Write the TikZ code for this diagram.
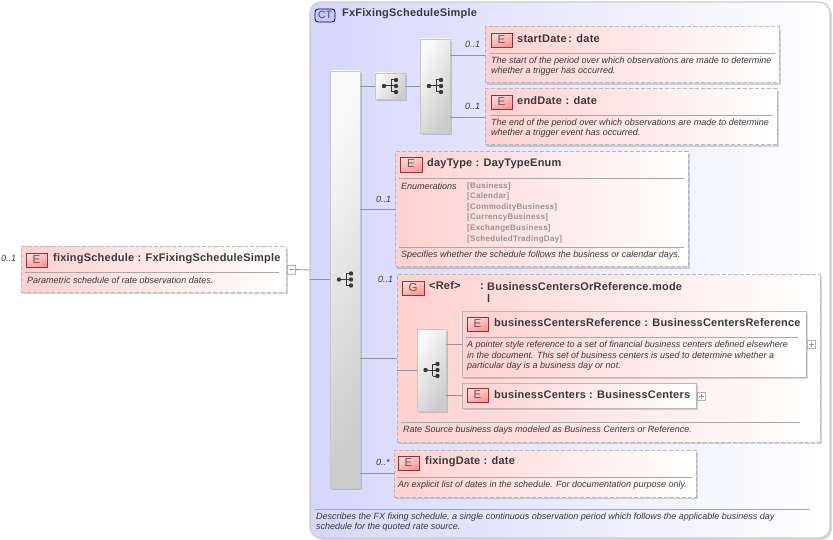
\documentclass[tikz,border=0pt]{standalone}
\usepackage{fontspec}
\setmainfont{Liberation Sans}
\newfontfamily\ttlfont[LetterSpace=2]{Liberation Sans}
\newfontfamily\enumfont[LetterSpace=3.5]{Liberation Sans}
\usetikzlibrary{shadows}
\definecolor{ink}{HTML}{3A3A3A}
\definecolor{rule}{HTML}{A8A8A8}
\definecolor{dashc}{HTML}{B8B8B8}
\definecolor{pinkl}{HTML}{FFD0D0}
\definecolor{bluel}{HTML}{D6D6FC}
\tikzset{
 x=1pt,y=-1pt,
 softshadow/.style={drop shadow={shadow xshift=2pt,shadow yshift=-2pt,fill=black,opacity=.16}},
 basebox/.style={inner sep=0pt,outer sep=0pt,anchor=north west},
 ctbox/.style={basebox,draw=#1,line width=1.2pt,rounded corners=11pt,shading=axis,left color=bluel,right color=white,softshadow},
 optbox/.style={basebox,draw=dashc,line width=1pt,dash pattern=on 4pt off 2pt,shading=axis,left color=pinkl,right color=white,softshadow},
 reqbox/.style={basebox,draw=dashc,line width=1pt,shading=axis,left color=pinkl,right color=white,softshadow},
 seqbox/.style={basebox,draw=white!78!black,line width=.8pt,shading=axis,top color=white!98!black,bottom color=white!80!black,shading angle=60,softshadow},
 badge/.style={basebox,draw=black!55!#1!80,line width=.8pt,shading=axis,top color=#1!14,bottom color=#1!42,shading angle=20,text=black!65,align=center,font=\fontsize{11.5}{12}\selectfont},
 ctbadge/.style={basebox,draw=black!70!blue,line width=.8pt,rounded corners=3pt,fill=blue!22,text=black!70,align=center,font=\fontsize{10.5}{12}\selectfont},
 plusbox/.style={basebox,draw=black!30,line width=.6pt,fill=white},
 conn/.style={draw=black!42,line width=.8pt},
 septl/.style={draw=rule,line width=.9pt},
 titletx/.style={inner sep=0pt,anchor=west,text=ink,font=\fontsize{11}{13}\selectfont\ttlfont\bfseries},
 desctx/.style={inner sep=0pt,anchor=west,text=ink,font=\fontsize{9}{10}\selectfont\itshape},
 occtx/.style={inner sep=0pt,anchor=west,text=ink,font=\fontsize{9}{10}\selectfont\itshape},
 enumtx/.style={inner sep=0pt,anchor=west,text=black!42,font=\fontsize{8}{10}\selectfont\enumfont\bfseries},
}
\newcommand{\bx}[6]{\pgfmathsetmacro{\bw}{#5-#3}\pgfmathsetmacro{\bh}{#6-#4}%
 \node[#1,minimum width=\bw pt,minimum height=\bh pt] (#2) at (#3,#4) {};}
\newcommand{\bd}[7][]{\pgfmathsetmacro{\bw}{#5-#3}\pgfmathsetmacro{\bh}{#6-#4}%
 \node[#1,minimum width=\bw pt,minimum height=\bh pt,text height=8pt,text depth=1pt] (#2) at (#3,#4) {#7};}
\newcommand{\seqicon}[1]{%
 \fill[black!78] ([xshift=-6pt]#1.center) circle (2.2pt);
 \draw[black!78,line width=1pt] ([xshift=-6pt]#1.center) -- ([xshift=1pt]#1.center)
   ([xshift=1pt,yshift=6pt]#1.center) -- ([xshift=1pt,yshift=-6pt]#1.center)
   ([xshift=1pt,yshift=6pt]#1.center) -- ([xshift=6pt,yshift=6pt]#1.center)
   ([xshift=1pt,yshift=-6pt]#1.center) -- ([xshift=6pt,yshift=-6pt]#1.center)
   ([xshift=1pt]#1.center) -- ([xshift=6pt]#1.center);
 \fill[black!78] ([xshift=6pt,yshift=6pt]#1.center) circle (2.2pt)
   ([xshift=6pt]#1.center) circle (2.2pt)
   ([xshift=6pt,yshift=-6pt]#1.center) circle (2.2pt);}
\newcommand{\pmbox}[2]{%
 \draw[black!40,line width=.5pt] ([xshift=-2.5pt]#1.center) -- ([xshift=2.5pt]#1.center);
 \ifnum#2=1 \draw[black!40,line width=.5pt] ([yshift=-2.5pt]#1.center) -- ([yshift=2.5pt]#1.center);\fi}
\begin{document}
\begin{tikzpicture}
\useasboundingbox (0,0) rectangle (833,540);
\fill[white] (0,0) rectangle (833,540);
% Complex type
\bx{ctbox=black!20}{ct}{310}{2}{830}{538}
\bd[ctbadge]{ctb}{315}{9}{335}{22}{CT}
\node[titletx] (cttitle) at (342,14) {FxFixingScheduleSimple};
\draw[septl] (315,509) -- (810,509);
\node[desctx] (ctd1) at (316,517) {Describes the FX fixing schedule, a single continuous observation period which follows the applicable business day};
\node[desctx] (ctd2) at (316,527) {schedule for the quoted rate source.};
% root element
\bx{optbox}{fs}{21}{247}{286}{292}
\bd[badge=red]{fsb}{26}{253}{47}{267}{E}
\node[titletx] (fst) at (53,259) {fixingSchedule : FxFixingScheduleSimple};
\draw[septl] (25,272) -- (279,272);
\node[desctx] (fsd) at (27,280) {Parametric schedule of rate observation dates.};
\node[occtx] (fso) at (1,258) {0..1};
\bx{plusbox}{fsm}{287}{265}{295}{274}
\pmbox{fsm}{0}
% sequences
\bx{seqbox}{mainseq}{330}{71}{360}{488}
\bx{seqbox}{smallseq}{375}{73}{405}{99}
\bx{seqbox}{medseq}{420}{39}{450}{133}
% startDate
\bx{optbox}{sd}{485}{27}{779}{83}
\bd[badge=red]{sdb}{491}{33}{512}{47}{E}
\node[titletx] (sdt) at (517,39) {startDate\,: date};
\draw[septl] (490,53) -- (775,53);
\node[desctx] (sdd1) at (491,61) {The start of the period over which observations are made to determine};
\node[desctx] (sdd2) at (491,71) {whether a trigger has occurred.};
\node[occtx] (sdo) at (465,44) {0..1};
% endDate
\bx{optbox}{ed}{485}{89}{777}{145}
\bd[badge=red]{edb}{491}{95}{512}{109}{E}
\node[titletx] (edt) at (517,101) {endDate\,\,: date};
\draw[septl] (490,115) -- (773,115);
\node[desctx] (edd1) at (491,123) {The end of the period over which observations are made to determine};
\node[desctx] (edd2) at (491,133) {whether a trigger event has occurred.};
\node[occtx] (edo) at (465,106) {0..1};
% dayType
\bx{optbox}{dt}{395}{152}{688}{267}
\bd[badge=red]{dtb}{400}{157}{422}{172}{E}
\node[titletx] (dtt) at (427,164) {dayType : DayTypeEnum};
\draw[septl] (399,178) -- (684,178);
\node[desctx] (dten) at (401,186) {Enumerations};
\node[enumtx] (dte1) at (467,186) {[Business]};
\node[enumtx] (dte2) at (467,196) {[Calendar]};
\node[enumtx] (dte3) at (467,207) {[CommodityBusiness]};
\node[enumtx] (dte4) at (467,217) {[CurrencyBusiness]};
\node[enumtx] (dte5) at (467,228) {[ExchangeBusiness]};
\node[enumtx] (dte6) at (467,239) {[ScheduledTradingDay]};
\draw[septl] (399,247) -- (684,247);
\node[desctx] (dtd) at (401,255) {Specifies whether the schedule follows the business or calendar days.};
\node[occtx] (dto) at (376,199) {0..1};
% group
\bx{optbox}{gr}{397}{275}{820}{442}
\bd[badge=red]{grb}{402}{281}{424}{295}{G}
\node[titletx] (grn) at (429,286) {<Ref>};
\node[titletx] (grc) at (480,287) {:};
\node[titletx] (grt) at (487,287) {BusinessCentersOrReference.mode};
\node[titletx] (grl) at (487,299) {l};
\draw[septl] (401,422) -- (800,422);
\node[desctx] (grd) at (403,430) {Rate Source business days modeled as Business Centers or Reference.};
\node[occtx] (gro) at (378,279) {0..1};
\bx{seqbox}{refseq}{417}{329}{446}{411}
% businessCentersReference
\bx{reqbox}{bcr}{462}{311}{806}{377}
\bd[badge=red]{bcrb}{467}{317}{488}{331}{E}
\node[titletx] (bcrt) at (494,323) {businessCentersReference : BusinessCentersReference};
\draw[septl] (466,337) -- (798,337);
\node[desctx] (bcrd1) at (467,345) {A pointer style reference to a set of financial business centers defined elsewhere};
\node[desctx] (bcrd2) at (467,355) {in the document. This set of business centers is used to determine whether a};
\node[desctx] (bcrd3) at (467,366) {particular day is a business day or not.};
\bx{plusbox}{bcrp}{807}{340}{815}{348}
\pmbox{bcrp}{1}
% businessCenters
\bx{reqbox}{bc}{462}{383}{696}{408}
\bd[badge=red]{bcb}{467}{388}{488}{402}{E}
\node[titletx] (bct) at (494,395) {businessCenters : BusinessCenters};
\bx{plusbox}{bcp}{697}{392}{705}{400}
\pmbox{bcp}{1}
% fixingDate
\bx{optbox}{fd}{394}{450}{696}{497}
\bd[badge=red]{fdb}{398}{456}{419}{470}{E}
\node[titletx] (fdt) at (425,462) {fixingDate : date};
\draw[septl] (397,477) -- (692,477);
\node[desctx] (fdd) at (398,485) {An explicit list of dates in the schedule. For documentation purpose only.};
\node[occtx] (fdo) at (376,462) {0..*};
% connectors
\draw[conn] (fsm.east) -- (ct.west);
\draw[conn] (ct.west |- mainseq.west) -- (mainseq.west);
\draw[conn] (mainseq.east |- smallseq.west) -- (smallseq.west);
\draw[conn] (smallseq.east) -- (medseq.west |- smallseq.east);
\draw[conn] (medseq.east |- sd.west) -- (sd.west);
\draw[conn] (medseq.east |- ed.west) -- (ed.west);
\draw[conn] (mainseq.east |- dt.west) -- (dt.west);
\draw[conn] (mainseq.east |- gr.west) -- (gr.west);
\draw[conn] (mainseq.east |- fd.west) -- (fd.west);
\draw[conn] (gr.west |- refseq.west) -- (refseq.west);
\draw[conn] (refseq.east |- bcr.west) -- (bcr.west);
\draw[conn] (refseq.east |- bc.west) -- (bc.west);
\seqicon{mainseq}
\seqicon{smallseq}
\seqicon{medseq}
\seqicon{refseq}
\end{tikzpicture}
\end{document}
